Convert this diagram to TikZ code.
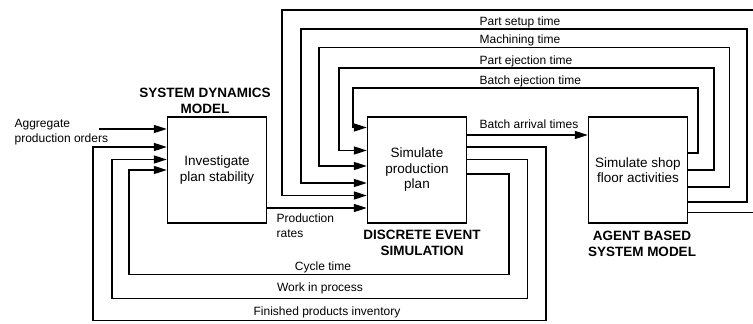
\documentclass[tikz,border=0pt]{standalone}
\usepackage{fontspec}
\setmainfont{Liberation Sans}
\usetikzlibrary{arrows.meta, calc, positioning}

\begin{document}
\begin{tikzpicture}[x=1pt, y=-1pt, >={Triangle[length=13pt,width=8pt]}, line width=1.3pt,
	model/.style={draw, minimum width=99pt, minimum height=106pt, align=center, font=\fontsize{13.5}{15.5}\selectfont},
	title/.style={align=center, inner sep=0pt, font=\fontsize{13.5}{16}\selectfont\bfseries},
	lbl/.style={inner sep=0pt, font=\fontsize{12}{14.4}\selectfont}]
		\useasboundingbox (0,0) rectangle (753,324);
		% the three models
		\node[model] (sd) at (217,170) {Investigate\\plan stability};
		\node[model] (des) at (417,170) {Simulate\\production\\plan};
		\node[model] (abm) at (638,170) {Simulate shop\\floor activities};
		\node[title] (sdtitle) at (205,101) {SYSTEM DYNAMICS\\MODEL};
		\node[title] (destitle) at (422,242.5) {DISCRETE EVENT\\SIMULATION};
		\node[title] (abmtitle) at (642,244) {AGENT BASED\\SYSTEM MODEL};
		% input orders
		\coordinate (orders) at (99,129);
		\node[lbl, align=left, anchor=west] (orderslbl) at (14,132) {Aggregate\\production orders};
		\draw[->] (orders) -- (sd.west |- orders);
		% SD -> DES
		\draw[->] (sd.east |- 0,208) -- (des.west |- 0,208);
		\node[lbl, align=left, anchor=north west] (rateslbl) at (276,213.6) {Production\\rates};
		% DES -> ABM
		\draw[->] (des.east |- 0,135) -- (abm.west |- 0,135);
		\node[lbl, anchor=base west] (arrivallbl) at (479,128.3) {Batch arrival times};
		% ABM -> DES feedback
		\foreach \ya/\xr/\yt/\xl/\yd/\txt in {153/698/88/353/127.5/Batch ejection time, 170/714/68/339/150.5/Part ejection time, 187/729.5/47.5/319/166/Machining time, 202/747/29/301/183/Part setup time, 212.5/757/10/282/195.5/{}}{
			\draw[->] (abm.east |- 0,\ya) -| (\xr,\yt) -| (\xl,\yd) -- (des.west |- 0,\yd);
			\node[lbl, anchor=base west] at (479,\yt-4) {\txt};
		}
		% DES -> SD feedback
		\draw[->] (des.east |- 0,147) -| (546,320.7) -| (93,147) -- (sd.west |- 0,147);
		\draw[->] (des.east |- 0,159.5) -| (527.5,298.3) -| (112,159.5) -- (sd.west |- 0,159.5);
		\draw[->] (des.east |- 0,174) -| (509,274.3) -| (129,170) -- (sd.west |- 0,170);
		\node[lbl, anchor=base] (cyclelbl) at (323,270.5) {Cycle time};
		\node[lbl, anchor=base] (wiplbl) at (320,291.3) {Work in process};
		\node[lbl, anchor=base] (fpilbl) at (327,315.7) {Finished products inventory};
	\end{tikzpicture}
\end{document}
